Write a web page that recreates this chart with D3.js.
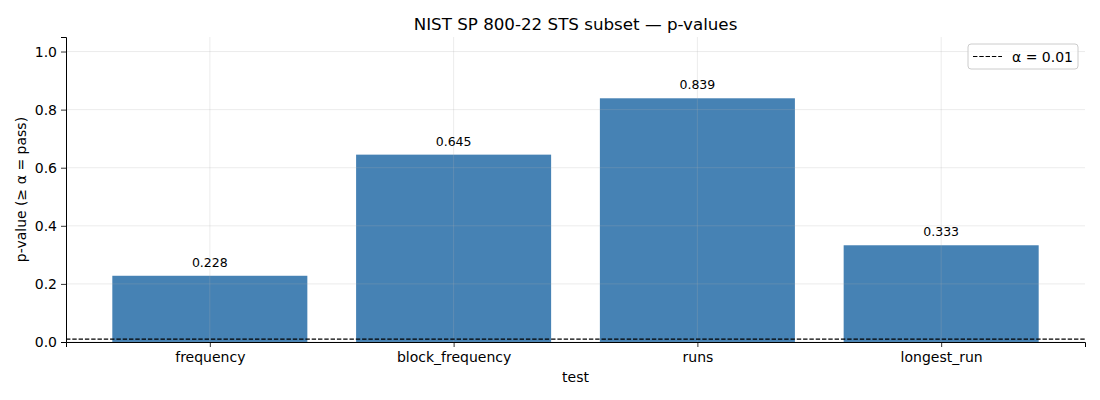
<!DOCTYPE html>
<html>
<head>
<meta charset="utf-8">
<title>NIST SP 800-22 STS subset</title>
<script src="https://cdn.jsdelivr.net/npm/d3@7"></script>
<style>
  body { margin: 0; background: #fff; }
  svg { font-family: "DejaVu Sans", sans-serif; }
</style>
</head>
<body>
<div id="chart"></div>
<script>
// data
var tests = ["frequency", "block_frequency", "runs", "longest_run"];
var pvalues = [0.228, 0.645, 0.839, 0.333];
var alpha = 0.01;
var yTicks = [0.0, 0.2, 0.4, 0.6, 0.8, 1.0];

var W = 1100, H = 400;
var margin = {top: 37, right: 15, bottom: 58, left: 66};
var width = W - margin.left - margin.right,
    height = H - margin.top - margin.bottom;

var svg = d3.select("#chart").append("svg")
  .attr("width", W).attr("height", H);

var g = svg.append("g")
  .attr("transform", "translate(" + margin.left + "," + margin.top + ")");

var x = d3.scaleLinear().domain([-0.59, tests.length - 1 + 0.59]).range([0, width]);
var y = d3.scaleLinear().domain([0, 1.05]).range([height, 0]);
var barW = x(0.8) - x(0);

// bars
g.selectAll("rect.bar")
  .data(pvalues)
  .enter().append("rect")
  .attr("class", "bar")
  .attr("x", function(d, i) { return x(i) - barW / 2; })
  .attr("y", function(d) { return y(d); })
  .attr("width", barW)
  .attr("height", function(d) { return y(0) - y(d); })
  .attr("fill", "#4682b4");

// grid on top of bars (matplotlib style)
g.append("g").selectAll("line")
  .data(yTicks).enter().append("line")
  .attr("x1", 0).attr("x2", width)
  .attr("y1", function(d) { return y(d); }).attr("y2", function(d) { return y(d); })
  .attr("stroke", "#b0b0b0").attr("stroke-opacity", 0.3).attr("stroke-width", 0.8);
g.append("g").selectAll("line")
  .data(tests).enter().append("line")
  .attr("y1", 0).attr("y2", height)
  .attr("x1", function(d, i) { return x(i); }).attr("x2", function(d, i) { return x(i); })
  .attr("stroke", "#b0b0b0").attr("stroke-opacity", 0.3).attr("stroke-width", 0.8);

// value labels
g.selectAll("text.val")
  .data(pvalues).enter().append("text")
  .attr("class", "val")
  .attr("x", function(d, i) { return x(i); })
  .attr("y", function(d) { return y(d + 0.031); })
  .attr("text-anchor", "middle")
  .style("font-size", "12.5px")
  .attr("fill", "#000")
  .text(function(d) { return d.toFixed(3); });

// alpha threshold
g.append("line")
  .attr("x1", 0).attr("x2", width)
  .attr("y1", y(alpha)).attr("y2", y(alpha))
  .attr("stroke", "#000").attr("stroke-width", 1.2)
  .attr("stroke-dasharray", "4.4,1.9");

// axes
var xAxis = d3.axisBottom(x)
  .tickValues(d3.range(tests.length))
  .tickFormat(function(i) { return tests[i]; })
  .tickSizeOuter(0).tickSize(5).tickPadding(5);
var yAxis = d3.axisLeft(y)
  .tickValues(yTicks)
  .tickFormat(d3.format(".1f"))
  .tickSizeOuter(0).tickSize(5).tickPadding(4);

var gx = g.append("g").attr("transform", "translate(0," + height + ")").call(xAxis);
var gy = g.append("g").call(yAxis);
[gx, gy].forEach(function(a) {
  a.selectAll("text").style("font-size", "14px").attr("fill", "#000")
    .style("font-family", "DejaVu Sans, sans-serif");
  a.selectAll("line").attr("stroke", "#000").attr("stroke-width", 0.8);
  a.select(".domain").attr("stroke", "#000").attr("stroke-width", 1);
});

// axis labels and title
svg.append("text")
  .attr("x", margin.left + width / 2).attr("y", 382)
  .attr("text-anchor", "middle").style("font-size", "14px")
  .text("test");
svg.append("text")
  .attr("transform", "translate(26," + (margin.top + height / 2) + ") rotate(-90)")
  .attr("text-anchor", "middle").style("font-size", "14px")
  .text("p-value (≥ α = pass)");
svg.append("text")
  .attr("x", margin.left + width / 2).attr("y", 30)
  .attr("text-anchor", "middle").style("font-size", "16.7px")
  .text("NIST SP 800-22 STS subset — p-values");

// legend
var lg = svg.append("g").attr("transform", "translate(968,44)");
lg.append("rect")
  .attr("width", 110).attr("height", 25).attr("rx", 3)
  .attr("fill", "#fff").attr("fill-opacity", 0.8)
  .attr("stroke", "#ccc").attr("stroke-width", 1);
lg.append("line")
  .attr("x1", 5).attr("x2", 34).attr("y1", 12.5).attr("y2", 12.5)
  .attr("stroke", "#000").attr("stroke-width", 1.2)
  .attr("stroke-dasharray", "4.4,1.9");
lg.append("text")
  .attr("x", 44).attr("y", 17.5)
  .style("font-size", "14px")
  .text("α = " + alpha);
</script>
</body>
</html>
